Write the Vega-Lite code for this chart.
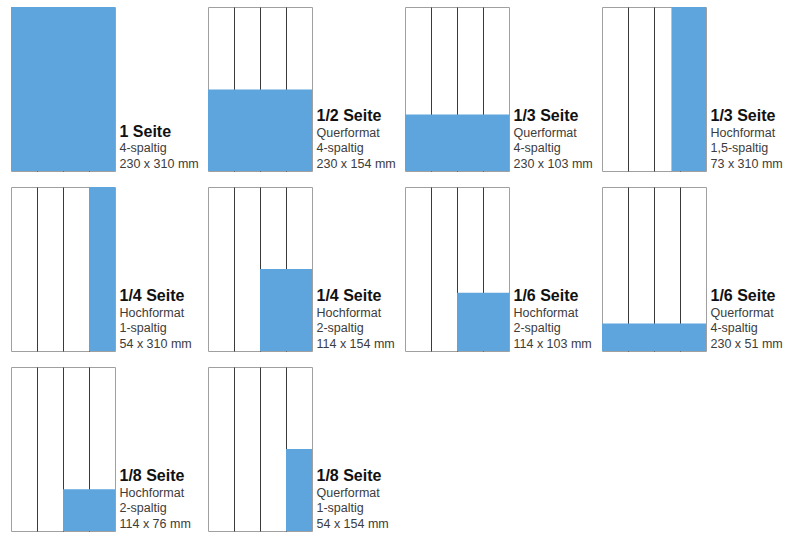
{
  "$schema": "https://vega.github.io/schema/vega-lite/v6.json",
  "padding": {"left": 10, "top": 6, "right": 5, "bottom": 4},
  "background": "white",
  "data": {"values": [
    {"id": 1, "kind": "page", "x0": 0, "x1": 4, "top": 310},
    {"id": 2, "kind": "page", "x0": 0, "x1": 4, "top": 154},
    {"id": 3, "kind": "page", "x0": 0, "x1": 4, "top": 107},
    {"id": 4, "kind": "page", "x0": 2.67, "x1": 4, "top": 310},
    {"id": 5, "kind": "page", "x0": 3, "x1": 4, "top": 310},
    {"id": 6, "kind": "page", "x0": 2, "x1": 4, "top": 155},
    {"id": 7, "kind": "page", "x0": 2, "x1": 4, "top": 110},
    {"id": 8, "kind": "page", "x0": 0, "x1": 4, "top": 52},
    {"id": 9, "kind": "page", "x0": 2, "x1": 4, "top": 79},
    {"id": 10, "kind": "page", "x0": 3, "x1": 4, "top": 155},

    {"id": 1, "kind": "text", "line": 2, "label": "1 Seite", "bold": true},
    {"id": 1, "kind": "text", "line": 1, "label": "4-spaltig", "bold": false},
    {"id": 1, "kind": "text", "line": 0, "label": "230 x 310 mm", "bold": false},

    {"id": 2, "kind": "text", "line": 3, "label": "1/2 Seite", "bold": true},
    {"id": 2, "kind": "text", "line": 2, "label": "Querformat", "bold": false},
    {"id": 2, "kind": "text", "line": 1, "label": "4-spaltig", "bold": false},
    {"id": 2, "kind": "text", "line": 0, "label": "230 x 154 mm", "bold": false},

    {"id": 3, "kind": "text", "line": 3, "label": "1/3 Seite", "bold": true},
    {"id": 3, "kind": "text", "line": 2, "label": "Querformat", "bold": false},
    {"id": 3, "kind": "text", "line": 1, "label": "4-spaltig", "bold": false},
    {"id": 3, "kind": "text", "line": 0, "label": "230 x 103 mm", "bold": false},

    {"id": 4, "kind": "text", "line": 3, "label": "1/3 Seite", "bold": true},
    {"id": 4, "kind": "text", "line": 2, "label": "Hochformat", "bold": false},
    {"id": 4, "kind": "text", "line": 1, "label": "1,5-spaltig", "bold": false},
    {"id": 4, "kind": "text", "line": 0, "label": "73 x 310 mm", "bold": false},

    {"id": 5, "kind": "text", "line": 3, "label": "1/4 Seite", "bold": true},
    {"id": 5, "kind": "text", "line": 2, "label": "Hochformat", "bold": false},
    {"id": 5, "kind": "text", "line": 1, "label": "1-spaltig", "bold": false},
    {"id": 5, "kind": "text", "line": 0, "label": "54 x 310 mm", "bold": false},

    {"id": 6, "kind": "text", "line": 3, "label": "1/4 Seite", "bold": true},
    {"id": 6, "kind": "text", "line": 2, "label": "Hochformat", "bold": false},
    {"id": 6, "kind": "text", "line": 1, "label": "2-spaltig", "bold": false},
    {"id": 6, "kind": "text", "line": 0, "label": "114 x 154 mm", "bold": false},

    {"id": 7, "kind": "text", "line": 3, "label": "1/6 Seite", "bold": true},
    {"id": 7, "kind": "text", "line": 2, "label": "Hochformat", "bold": false},
    {"id": 7, "kind": "text", "line": 1, "label": "2-spaltig", "bold": false},
    {"id": 7, "kind": "text", "line": 0, "label": "114 x 103 mm", "bold": false},

    {"id": 8, "kind": "text", "line": 3, "label": "1/6 Seite", "bold": true},
    {"id": 8, "kind": "text", "line": 2, "label": "Querformat", "bold": false},
    {"id": 8, "kind": "text", "line": 1, "label": "4-spaltig", "bold": false},
    {"id": 8, "kind": "text", "line": 0, "label": "230 x 51 mm", "bold": false},

    {"id": 9, "kind": "text", "line": 3, "label": "1/8 Seite", "bold": true},
    {"id": 9, "kind": "text", "line": 2, "label": "Hochformat", "bold": false},
    {"id": 9, "kind": "text", "line": 1, "label": "2-spaltig", "bold": false},
    {"id": 9, "kind": "text", "line": 0, "label": "114 x 76 mm", "bold": false},

    {"id": 10, "kind": "text", "line": 3, "label": "1/8 Seite", "bold": true},
    {"id": 10, "kind": "text", "line": 2, "label": "Querformat", "bold": false},
    {"id": 10, "kind": "text", "line": 1, "label": "1-spaltig", "bold": false},
    {"id": 10, "kind": "text", "line": 0, "label": "54 x 154 mm", "bold": false}
  ]},
  "facet": {"field": "id", "type": "ordinal",
            "header": {"title": null, "labelExpr": "''", "labelFontSize": 0, "labelPadding": 0, "titlePadding": 0}},
  "columns": 4,
  "spacing": {"column": 93, "row": 16},
  "bounds": "flush",
  "spec": {
    "width": 104,
    "height": 164,
    "layer": [
      {
        "transform": [{"filter": "datum.kind === 'page'"}],
        "mark": {"type": "rect", "color": "#5DA5DC"},
        "encoding": {
          "x": {"field": "x0", "type": "quantitative",
                "scale": {"domain": [0, 4], "nice": false, "zero": false},
                "axis": {"values": [1, 2, 3], "grid": true, "gridColor": "#3a3a3a", "gridOpacity": 1, "gridWidth": 1,
                         "domain": false, "ticks": false, "labels": false, "title": null}},
          "x2": {"field": "x1"},
          "y": {"field": "top", "type": "quantitative",
                "scale": {"domain": [0, 310], "nice": false, "zero": false}, "axis": null},
          "y2": {"datum": 0}
        }
      },
      {
        "transform": [{"filter": "datum.kind === 'text' && datum.bold"}],
        "mark": {"type": "text", "align": "left", "baseline": "alphabetic", "dx": 4.5, "dy": -3,
                 "font": "Liberation Sans", "fontSize": 16, "fontWeight": "bold", "color": "#111111"},
        "encoding": {
          "x": {"datum": 4, "type": "quantitative"},
          "y": {"field": "line", "type": "quantitative",
                "scale": {"domain": [0, 10.58], "nice": false, "zero": false}, "axis": null},
          "text": {"field": "label"}
        }
      },
      {
        "transform": [{"filter": "datum.kind === 'text' && !datum.bold"}],
        "mark": {"type": "text", "align": "left", "baseline": "alphabetic", "dx": 4.5, "dy": -3,
                 "font": "Liberation Sans", "fontSize": 12.5, "color": "#3c3c3c"},
        "encoding": {
          "x": {"datum": 4, "type": "quantitative"},
          "y": {"field": "line", "type": "quantitative",
                "scale": {"domain": [0, 10.58], "nice": false, "zero": false}, "axis": null},
          "text": {"field": "label"}
        }
      }
    ],
    "resolve": {"scale": {"y": "independent"}}
  },
  "config": {"view": {"stroke": "#a0a0a0", "strokeWidth": 1}}
}
